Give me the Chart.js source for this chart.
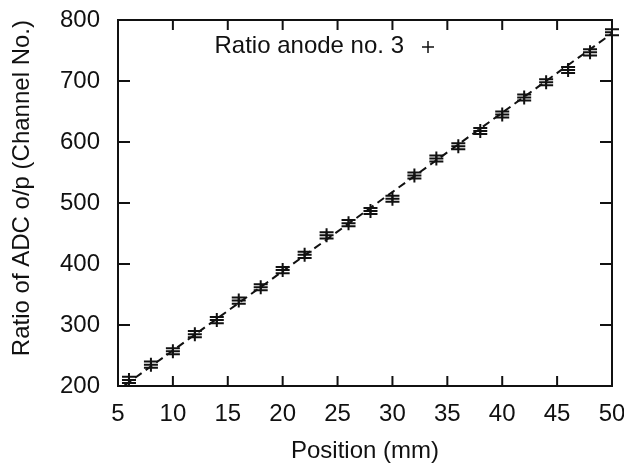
<!DOCTYPE html>
<html>
<head>
<meta charset="utf-8">
<script src="https://cdn.jsdelivr.net/npm/chart.js@4"></script>
<style>
  html, body { margin: 0; padding: 0; background: #fff; }
</style>
</head>
<body>
<canvas id="chart" width="624" height="469"></canvas>
<script>
// positions in mm and ratio of ADC output
const positions = [6, 8, 10, 12, 14, 16, 18, 20, 22, 24, 26, 28, 30, 32, 34, 36, 38, 40, 42, 44, 46, 48, 50]
const ratios = [210, 235, 257, 285, 308, 340, 362, 390, 415, 447, 467, 487, 507, 545, 573, 593, 618, 645, 673, 698, 718, 747, 780]
const errors = [5, 5, 5, 5, 5, 5, 5, 5, 5, 5, 5, 5, 5, 5, 5, 5, 5, 5, 5, 5, 5, 5, 5]
// straight-line fit, end points
const fitX = [5.6, 50]
const fitY = [201, 778]
const xTicks = [5, 10, 15, 20, 25, 30, 35, 40, 45, 50]
const yTicks = [200, 300, 400, 500, 600, 700, 800]

const font = "'Liberation Sans', Arial, Helvetica, sans-serif"
const ink = "#111"

// gnuplot style frame with inward ticks on all four sides
const frame = {
  id: "frame",
  afterDatasetsDraw(chart) {
    const { ctx, chartArea: a, scales } = chart
    ctx.save()
    ctx.strokeStyle = ink
    ctx.lineWidth = 2
    ctx.setLineDash([])
    ctx.strokeRect(a.left, a.top, a.right - a.left, a.bottom - a.top)
    ctx.beginPath()
    xTicks.forEach((v) => {
      const px = scales.x.getPixelForValue(v)
      ctx.moveTo(px, a.bottom); ctx.lineTo(px, a.bottom - 10)
      ctx.moveTo(px, a.top); ctx.lineTo(px, a.top + 10)
    })
    yTicks.forEach((v) => {
      const py = scales.y.getPixelForValue(v)
      ctx.moveTo(a.left, py); ctx.lineTo(a.left + 12, py)
      ctx.moveTo(a.right, py); ctx.lineTo(a.right - 12, py)
    })
    ctx.stroke()
    ctx.restore()
  },
}

// vertical error bars with caps
const errorBars = {
  id: "errorBars",
  afterDatasetsDraw(chart) {
    const { ctx, scales } = chart
    const meta = chart.getDatasetMeta(1)
    ctx.save()
    ctx.strokeStyle = ink
    ctx.lineWidth = 2
    ctx.setLineDash([])
    ctx.beginPath()
    meta.data.forEach((pt, i) => {
      const lo = scales.y.getPixelForValue(ratios[i] - errors[i])
      const hi = scales.y.getPixelForValue(ratios[i] + errors[i])
      ctx.moveTo(pt.x, lo); ctx.lineTo(pt.x, hi)
      ctx.moveTo(pt.x - 7, lo); ctx.lineTo(pt.x + 7, lo)
      ctx.moveTo(pt.x - 7, hi); ctx.lineTo(pt.x + 7, hi)
    })
    ctx.stroke()
    ctx.restore()
  },
}

// key in the upper part of the plot
const key = {
  id: "key",
  afterDatasetsDraw(chart) {
    const { ctx } = chart
    const label = chart.data.datasets[1].label
    ctx.save()
    ctx.fillStyle = ink
    ctx.font = "24px " + font
    ctx.textAlign = "right"
    ctx.textBaseline = "middle"
    ctx.fillText(label, 404, 46)
    ctx.strokeStyle = ink
    ctx.lineWidth = 1.5
    ctx.beginPath()
    ctx.moveTo(422, 47); ctx.lineTo(434, 47)
    ctx.moveTo(428, 41); ctx.lineTo(428, 53)
    ctx.stroke()
    ctx.restore()
  },
}

new Chart(document.getElementById("chart"), {
  type: "scatter",
  data: {
    datasets: [
      {
        label: "fit",
        data: fitX.map((x, i) => ({ x: x, y: fitY[i] })),
        showLine: true,
        borderColor: ink,
        borderWidth: 2,
        borderDash: [8, 5],
        pointRadius: 0,
        fill: false,
      },
      {
        label: "Ratio anode no. 3",
        data: positions.map((x, i) => ({ x: x, y: ratios[i] })),
        pointStyle: "cross",
        pointRadius: 7,
        pointBorderWidth: 2,
        pointBorderColor: ink,
        pointBackgroundColor: ink,
      },
    ],
  },
  options: {
    responsive: false,
    animation: false,
    layout: { padding: { top: 20, right: 12, left: 0, bottom: 0 } },
    plugins: {
      legend: { display: false },
      tooltip: { enabled: false },
    },
    scales: {
      x: {
        type: "linear",
        min: 5,
        max: 50,
        afterBuildTicks: (s) => { s.ticks = xTicks.map((v) => ({ value: v })) },
        afterFit: (s) => { s.height = 83; s.paddingLeft = 0; s.paddingRight = 0 },
        grid: { display: false, drawTicks: false },
        border: { display: false },
        ticks: { color: ink, padding: 14, autoSkip: false, maxRotation: 0, font: { family: font, size: 24 } },
        title: {
          display: true,
          text: "Position (mm)",
          color: ink,
          font: { family: font, size: 24 },
          padding: { top: 6, bottom: 3 },
        },
      },
      y: {
        min: 200,
        max: 800,
        afterBuildTicks: (s) => { s.ticks = yTicks.map((v) => ({ value: v })) },
        afterFit: (s) => { s.width = 118; s.paddingTop = 0; s.paddingBottom = 0 },
        grid: { display: false, drawTicks: false },
        border: { display: false },
        ticks: { color: ink, padding: 18, autoSkip: false, font: { family: font, size: 24 } },
        title: {
          display: true,
          align: "end",
          text: "Ratio of ADC o/p (Channel No.)",
          color: ink,
          font: { family: font, size: 24 },
          padding: { top: 8, bottom: 4 },
        },
      },
    },
  },
  plugins: [frame, errorBars, key],
})
</script>
</body>
</html>
